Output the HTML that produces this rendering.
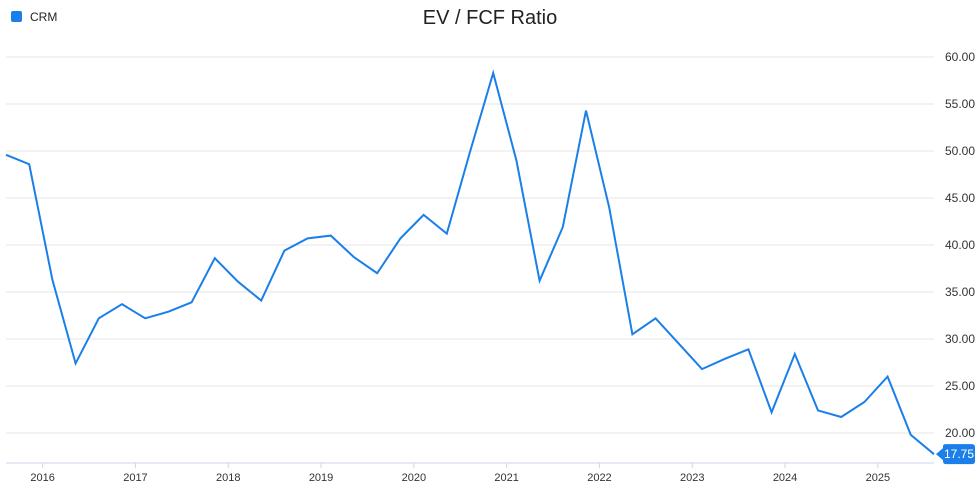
<!DOCTYPE html>
<html><head><meta charset="utf-8"><style>
body{margin:0;background:#fff;width:980px;height:489px;overflow:hidden;font-family:"Liberation Sans",sans-serif}
</style></head><body>
<svg width="980" height="489" id="chart">
<text x="490" y="24" text-anchor="middle" font-size="20" fill="#222">EV / FCF Ratio</text>
<g>
<rect x="11" y="11" width="11" height="11" rx="2" fill="#1a7fe8"/>
<text x="30" y="21" font-size="12" fill="#222">CRM</text>
</g>
<g id="grid"></g><g id="xaxis"></g><g id="series"></g>
</svg>
<script>
const yTicks=[20,25,30,35,40,45,50,55,60];
const yearLabels=[2016,2017,2018,2019,2020,2021,2022,2023,2024,2025];
const startYear=2015.605;
const values=[49.6,48.6,36.3,27.4,32.2,33.7,32.2,32.9,33.9,38.6,36.1,34.1,39.4,40.7,41.0,38.7,37.0,40.7,43.2,41.2,49.9,58.3,49.0,36.2,41.9,54.3,44.0,30.5,32.2,29.5,26.8,27.9,28.9,22.2,28.4,22.4,21.7,23.3,26.0,19.8,17.75];
const NS="http://www.w3.org/2000/svg";
const X0=6,X1=934;
const tEnd=startYear+(values.length-1)*0.25;
function xs(t){return X0+(t-startYear)/(tEnd-startYear)*(X1-X0);}
function ys(v){return 57+(60-v)*9.4;}
function mk(tag,attrs,parent){const e=document.createElementNS(NS,tag);for(const k in attrs)e.setAttribute(k,attrs[k]);parent.appendChild(e);return e;}
const grid=document.getElementById('grid'),xa=document.getElementById('xaxis'),se=document.getElementById('series');
yTicks.forEach(v=>{
  const l=mk('line',{x1:6,x2:934,y1:ys(v),y2:ys(v),stroke:'#e6e6e6','stroke-width':1},grid);
  
  
  const t=mk('text',{x:975,y:ys(v)+4,'text-anchor':'end','font-size':12,fill:'#333'},grid);
  t.textContent=v.toFixed(2);
  
  
});
const ax=mk('line',{x1:6,x2:934,y1:463,y2:463,stroke:'#ccd6eb','stroke-width':1},xa);


yearLabels.forEach(y=>{
  const x=xs(y);
  mk('line',{x1:x,x2:x,y1:463,y2:468,stroke:'#ccd6eb'},xa);
  const t=mk('text',{x:x,y:481,'text-anchor':'middle','font-size':11,fill:'#333'},xa);
  t.textContent=y;
  
  
});
const pts=values.map((v,i)=>xs(startYear+i*0.25).toFixed(1)+','+ys(v).toFixed(1)).join(' ');
const pl=mk('polyline',{points:pts,fill:'none',stroke:'#1a7fe8','stroke-width':2,'stroke-linejoin':'miter'},se);


const last=values[values.length-1],ly=ys(last);
const tag=mk('path',{d:`M936 ${ly} L943 ${ly-6} L943 ${ly-8} Q943 ${ly-10} 946 ${ly-10} L972 ${ly-10} Q975 ${ly-10} 975 ${ly-7} L975 ${ly+7} Q975 ${ly+10} 972 ${ly+10} L946 ${ly+10} Q943 ${ly+10} 943 ${ly+7} L943 ${ly+6} Z`,fill:'#1a7fe8'},se);


const lt=mk('text',{x:959,y:ly+4,'text-anchor':'middle','font-size':12,fill:'#fff'},se);
lt.textContent=last.toFixed(2);


</script>
</body></html>
